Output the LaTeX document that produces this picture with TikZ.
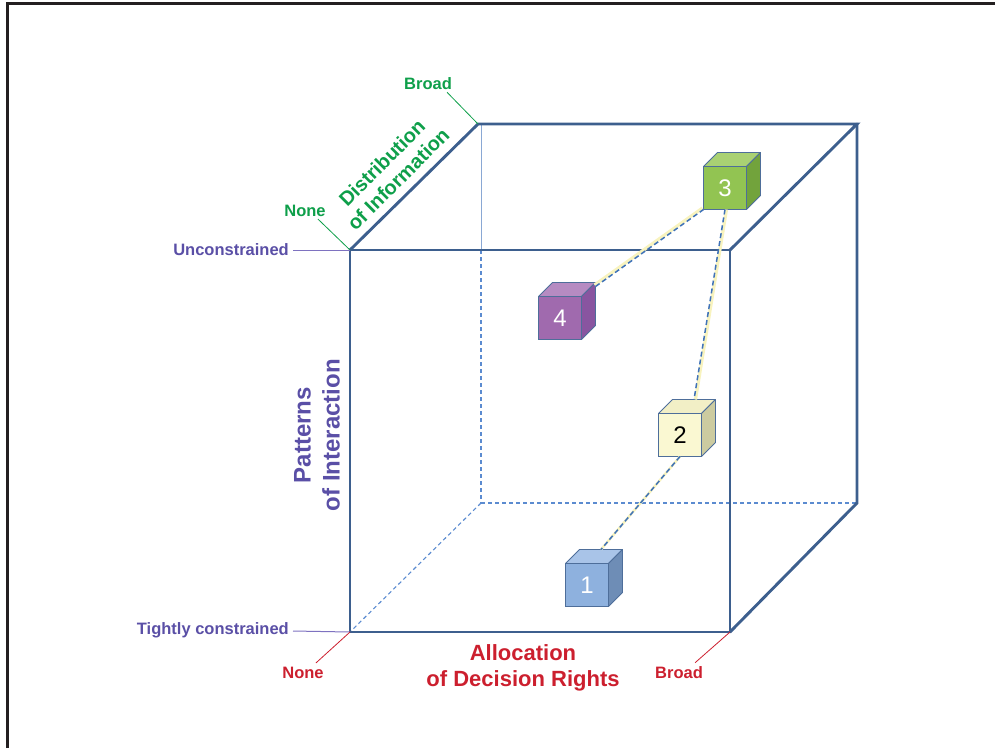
\documentclass[tikz,border=0pt]{standalone}
\usepackage{fontspec}
\setmainfont{Liberation Sans}
\usetikzlibrary{calc}
\definecolor{frame}{HTML}{231F20}
\definecolor{edge}{HTML}{3D5F8E}
\definecolor{hid}{HTML}{5B8BD0}
\definecolor{hidthin}{HTML}{8AA8D4}
\definecolor{gr}{HTML}{0E9F4A}
\definecolor{pu}{HTML}{5A4FA6}
\definecolor{pul}{HTML}{7E72C0}
\definecolor{rd}{HTML}{CC1F2E}
\definecolor{cedge}{HTML}{4E6E9A}
\definecolor{ylw}{HTML}{F8F3BE}
\definecolor{dash}{HTML}{3F72B8}
\definecolor{fa}{HTML}{8EB1DE}\definecolor{ta}{HTML}{A9C4E8}\definecolor{sa}{HTML}{6E8DB6}
\definecolor{fb}{HTML}{FAF8D2}\definecolor{tb}{HTML}{F2EFC6}\definecolor{sb}{HTML}{CCCBA0}
\definecolor{fc}{HTML}{92C452}\definecolor{tc}{HTML}{A9D173}\definecolor{sc}{HTML}{72A33C}
\definecolor{fd}{HTML}{A06AAE}\definecolor{td}{HTML}{B68BC2}\definecolor{sd}{HTML}{8955A0}
\newcommand\mycube[6]{%
  \node[cubefront, fill=#3] (#1) at #2 {#6};
  \filldraw[fill=#4, draw=cedge, line width=0.8pt, line join=round]
    (#1.north west) -- ++(14,-14) -- ++(43,0) -- (#1.north east) -- cycle;
  \filldraw[fill=#5, draw=cedge, line width=0.8pt, line join=round]
    (#1.north east) -- ++(14,-14) -- ++(0,43) -- (#1.south east) -- cycle;
}
\begin{document}
\begin{tikzpicture}[x=1pt,y=-1pt,
  bigedge/.style={draw=edge, line width=2.9pt, line join=miter, line cap=round},
  hidden/.style={draw=hid, line width=1.1pt, dash pattern=on 4pt off 3pt},
  lab/.style={font=\fontsize{16.5}{19}\selectfont\bfseries, inner sep=1pt},
  leader/.style={line width=0.8pt},
  cubefront/.style={draw=cedge, line width=0.8pt, minimum width=43pt, minimum height=43pt,
    inner sep=0pt, outer sep=0pt, font=\fontsize{24}{28}\selectfont},
  ylink/.style={draw=ylw, line width=3.2pt},
  blink/.style={draw=dash, line width=1.5pt, dash pattern=on 5pt off 3pt}]
\useasboundingbox (0,0) rectangle (995,748);
% frame
\draw[frame, line width=3pt] (7,748) -- (7,3) -- (995,3);
% big cube corners
\coordinate (FTL) at (350,250);
\coordinate (FTR) at (730,250);
\coordinate (FBR) at (730,632);
\coordinate (FBL) at (350,632);
\coordinate (BTL) at (478,124);
\coordinate (BTR) at (857,124);
\coordinate (BBR) at (857,503);
\coordinate (BBL) at (481,503);
\coordinate (BTLd) at (481,124);
\coordinate (BMd) at (481,250);
% hidden edges
\draw[draw=hidthin, line width=0.8pt] (BTLd) -- (BMd);
\draw[hidden] (BMd) -- (BBL);
\draw[hidden] (BBL) -- (BBR);
\draw[hidden] (BBL) -- (FBL);
% visible edges
\draw[bigedge] (FTL) -- (BTL) -- (BTR) -- (FTR);
\draw[bigedge] (BTR) -- (BBR) -- (FBR);
\draw[bigedge] (FTL) -- (FTR) -- (FBR) -- (FBL) -- cycle;
% small cubes
\mycube{c1}{(587,585)}{fa}{ta}{sa}{\textcolor{white}{1}}
\mycube{c2}{(680,435)}{fb}{tb}{sb}{\textcolor{black}{2}}
\mycube{c3}{(725,188)}{fc}{tc}{sc}{\textcolor{white}{3}}
\mycube{c4}{(560,318)}{fd}{td}{sd}{\textcolor{white}{4}}
% links
\draw[ylink, transform canvas={xshift=-1pt, yshift=1.5pt}] ($(c4.north east)+(14,-10)$) -- (c3.south west);
\draw[blink] ($(c4.north east)+(14,-10)$) -- (c3.south west);
\draw[ylink, transform canvas={xshift=1.5pt}] (c3.south) -- ($(c2.north)+(14,-14)$);
\draw[blink] (c3.south) -- ($(c2.north)+(14,-14)$);
\draw[ylink, line width=2.5pt] (c2.south) -- ($(c1.north)+(14,-14)$);
\draw[blink] (c2.south) -- ($(c1.north)+(14,-14)$);
% labels
\node[lab, text=gr] (gbroad) at (428,84) {Broad};
\node[lab, text=gr] (gnone) at (305,211) {None};
\node[lab, text=pu, anchor=east] (uncon) at (290,250) {Unconstrained};
\node[lab, text=pu, anchor=east] (tight) at (290,630) {Tightly constrained};
\node[lab, text=rd] (rnone) at (303,673) {None};
\node[lab, text=rd] (rbroad) at (679,673) {Broad};
\draw[leader, gr] ($(gbroad.south east)+(-6,1)$) -- (BTL);
\draw[leader, gr] ($(gnone.south east)+(-9,1)$) -- (FTL);
\draw[leader, pul, line width=1pt] ($(uncon.east)+(3,0)$) -- (FTL);
\draw[leader, pul, line width=1pt] ($(tight.east)+(3,1)$) -- (FBL);
\draw[leader, rd] ($(rnone.north east)+(-9,-3)$) -- (FBL);
\draw[leader, rd] ($(rbroad.north east)+(-9,-3)$) -- (FBR);
% axis titles
\node[text=rd, font=\fontsize{22}{26}\selectfont\bfseries, align=center] (alloc) at (523,668)
  {Allocation\\of Decision Rights};
\node[text=pu, font=\fontsize{24}{29}\selectfont\bfseries, align=center, rotate=90] (patt) at (317,435)
  {Patterns\\of Interaction};
\node[text=gr, font=\fontsize{20}{23}\selectfont\bfseries, align=center, rotate=45] (dist) at (390,171)
  {Distribution\\of Information};
\end{tikzpicture}
\end{document}
